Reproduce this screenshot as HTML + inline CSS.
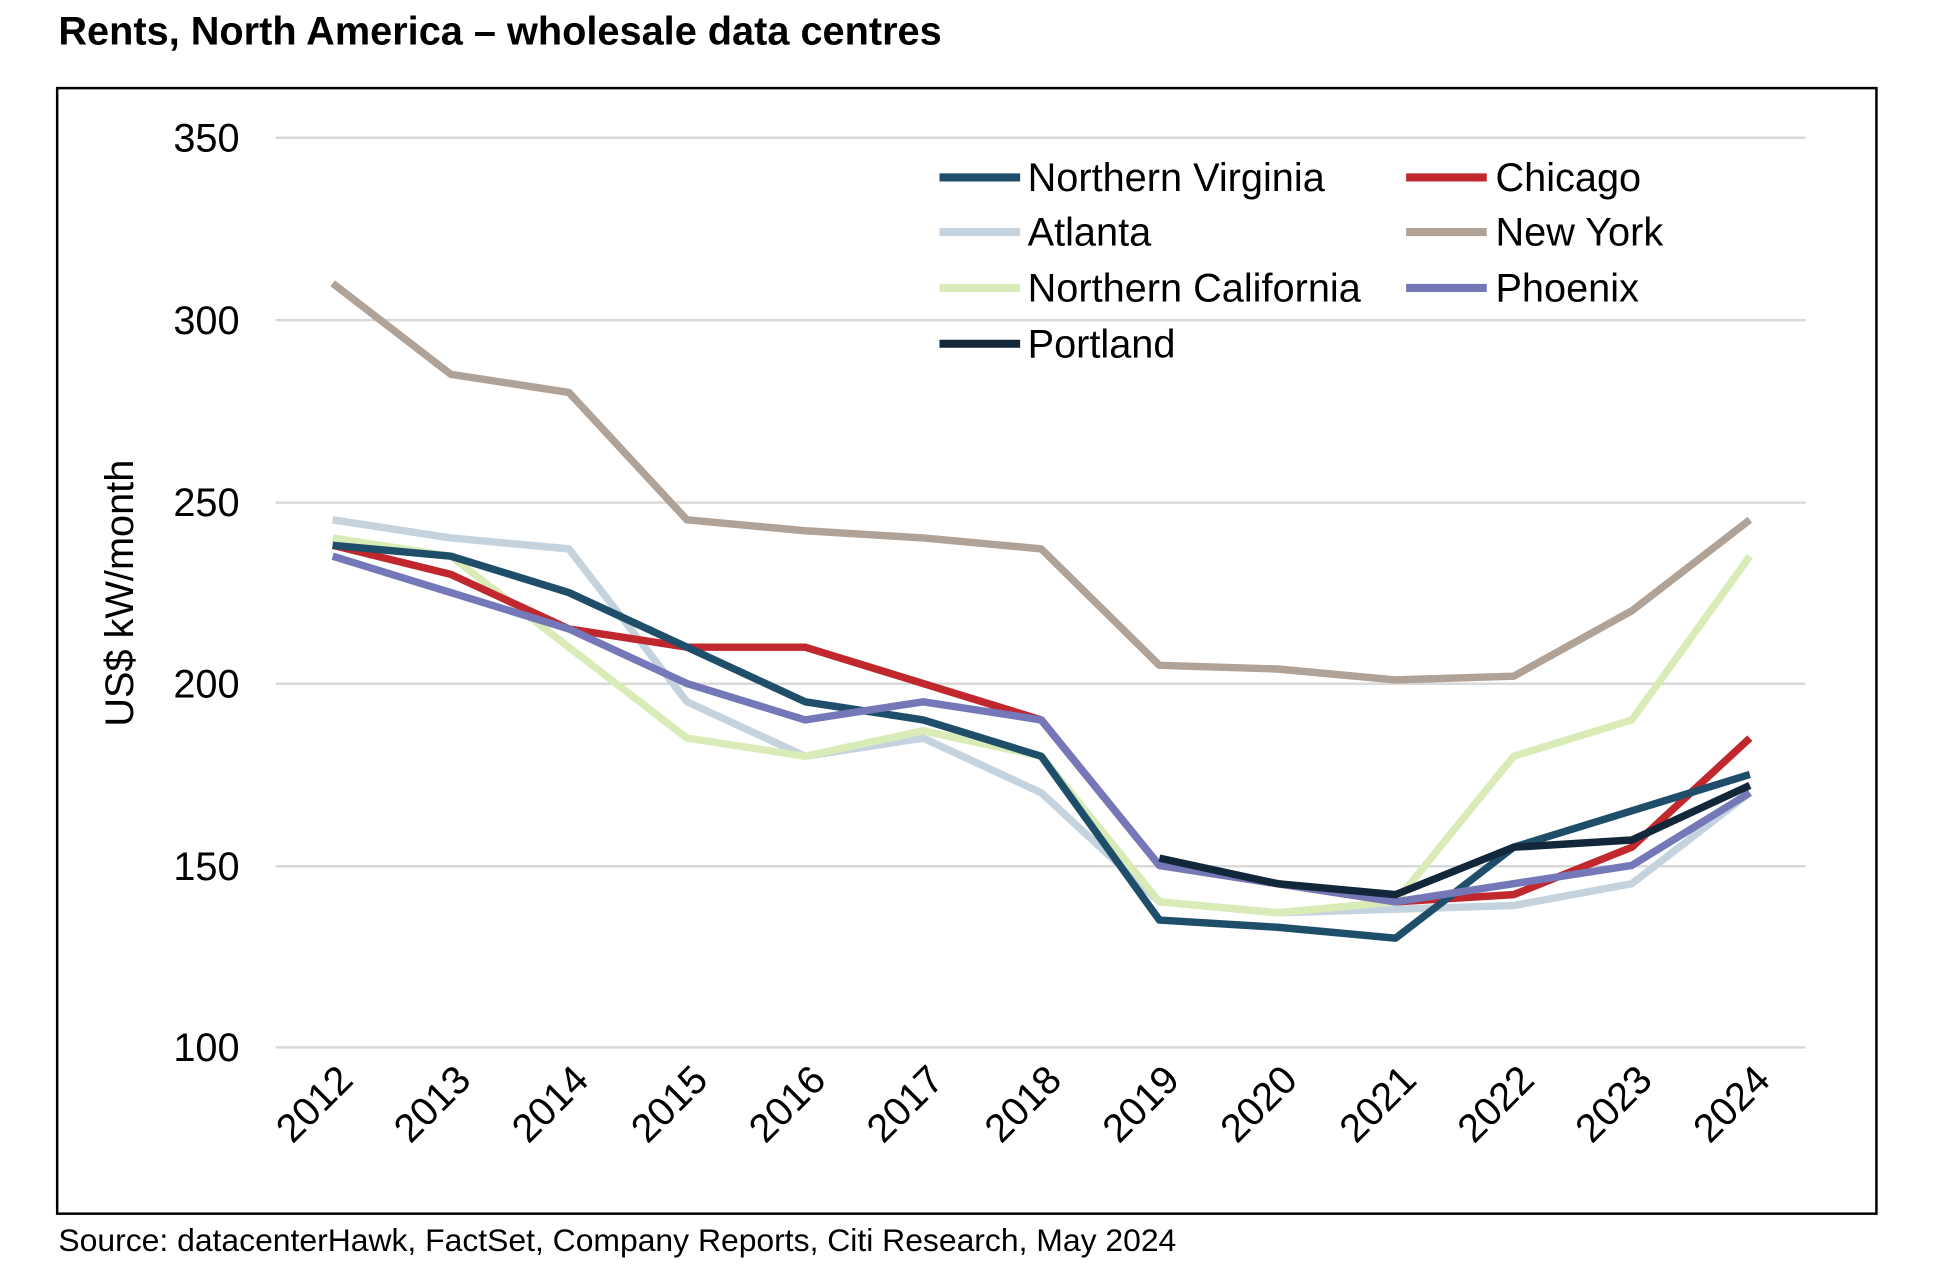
<!DOCTYPE html>
<html><head><meta charset="utf-8"><style>
html,body{margin:0;padding:0;background:#fff}
svg{display:block}
text{font-family:"Liberation Sans",Arial,sans-serif;fill:#000}
</style></head><body>
<svg id="s" width="1946" height="1272" viewBox="0 0 1568 1025" xmlns="http://www.w3.org/2000/svg">
<text x="47" y="36" font-size="32" font-weight="bold">Rents, North America – wholesale data centres</text>
<rect x="46" y="71" width="1466" height="907" fill="none" stroke="#000" stroke-width="2"/>
<g stroke="#d9d9d9" stroke-width="2">
<line x1="222" x2="1455" y1="111" y2="111"/><line x1="222" x2="1455" y1="258" y2="258"/>
<line x1="222" x2="1455" y1="405" y2="405"/><line x1="222" x2="1455" y1="551" y2="551"/>
<line x1="222" x2="1455" y1="698" y2="698"/><line x1="222" x2="1455" y1="844" y2="844"/>
</g>
<g font-size="32" text-anchor="end">
<text x="193" y="122">350</text><text x="193" y="269">300</text><text x="193" y="416">250</text>
<text x="193" y="562">200</text><text x="193" y="709">150</text><text x="193" y="855">100</text>
</g>
<text transform="translate(107,478) rotate(-90)" font-size="32" text-anchor="middle">US$ kW/month</text>
<g id="xt" font-size="32" text-anchor="end">
<text transform="translate(286,872) rotate(-45)">2012</text>
<text transform="translate(381,872) rotate(-45)">2013</text>
<text transform="translate(476,872) rotate(-45)">2014</text>
<text transform="translate(572,872) rotate(-45)">2015</text>
<text transform="translate(667,872) rotate(-45)">2016</text>
<text transform="translate(762,872) rotate(-45)">2017</text>
<text transform="translate(857,872) rotate(-45)">2018</text>
<text transform="translate(952,872) rotate(-45)">2019</text>
<text transform="translate(1047,872) rotate(-45)">2020</text>
<text transform="translate(1143,872) rotate(-45)">2021</text>
<text transform="translate(1238,872) rotate(-45)">2022</text>
<text transform="translate(1333,872) rotate(-45)">2023</text>
<text transform="translate(1428,872) rotate(-45)">2024</text>
</g>
<g id="lines" fill="none" stroke-width="6" stroke-linejoin="round"></g>
<g stroke-width="6.5">
<line x1="757" x2="822" y1="143" y2="143" stroke="#1f4e6b"/>
<line x1="1133" x2="1198" y1="143" y2="143" stroke="#c0282e"/>
<line x1="757" x2="822" y1="187" y2="187" stroke="#c5d3de"/>
<line x1="1133" x2="1198" y1="187" y2="187" stroke="#b0a296"/>
<line x1="757" x2="822" y1="232" y2="232" stroke="#d9ecb8"/>
<line x1="1133" x2="1198" y1="232" y2="232" stroke="#7478b8"/>
<line x1="757" x2="822" y1="277" y2="277" stroke="#13273a"/>
</g>
<g font-size="32">
<text x="828" y="154">Northern Virginia</text><text x="1205" y="154">Chicago</text>
<text x="828" y="198">Atlanta</text><text x="1205" y="198">New York</text>
<text x="828" y="243">Northern California</text><text x="1205" y="243">Phoenix</text>
<text x="828" y="288">Portland</text>
</g>
<text x="47" y="1008" font-size="25.7">Source: datacenterHawk, FactSet, Company Reports, Citi Research, May 2024</text>
</svg>
<script>
var S=[
["#c5d3de",0,[245,240,237,195,180,185,170,140,137,138,139,145,170]],
["#d9ecb8",0,[240,235,210,185,180,187,180,140,137,140,180,190,235]],
["#b0a296",0,[310,285,280,245,242,240,237,205,204,201,202,220,245]],
["#c0282e",0,[238,230,215,210,210,200,190,150,145,140,142,155,185]],
["#1f4e6b",0,[238,235,225,210,195,190,180,135,133,130,155,165,175]],
["#7478b8",0,[235,225,215,200,190,195,190,150,145,140,145,150,170]],
["#13273a",7,[152,145,142,155,157,172]]];
var g=document.getElementById("lines");
S.forEach(function(s){var p=s[2].map(function(v,i){return (268+(i+s[1])*95.17).toFixed(1)+","+(844-(v-100)*2.932).toFixed(1)}).join(" ");
var e=document.createElementNS("http://www.w3.org/2000/svg","polyline");e.setAttribute("points",p);e.setAttribute("stroke",s[0]);g.appendChild(e);});
</script>
</body></html>
